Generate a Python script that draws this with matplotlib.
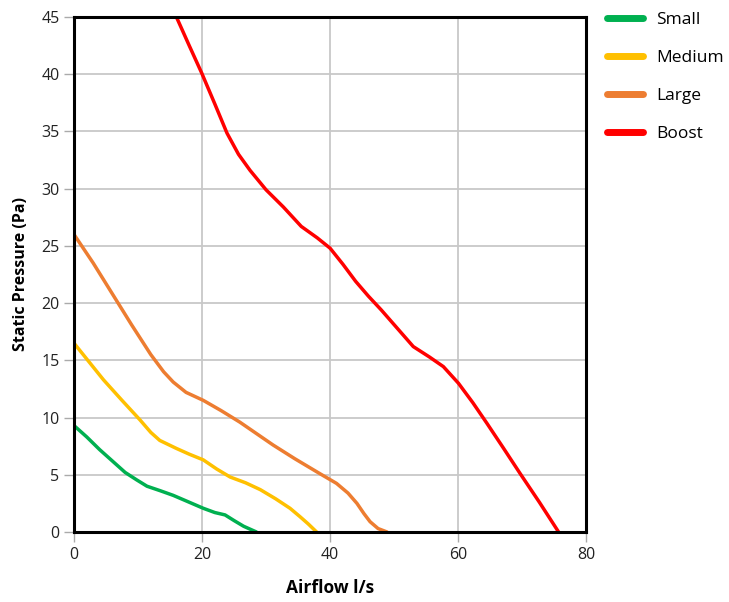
import matplotlib
matplotlib.use("Agg")
import matplotlib.pyplot as plt

plt.rcParams["font.family"] = ["Open Sans", "DejaVu Sans"]

small_x = [0, 2, 4, 6, 8, 9.8, 11.4, 13.5, 15.5, 18, 20.2, 22, 23.6, 25, 26.5, 28.5]
small_y = [9.3, 8.3, 7.2, 6.2, 5.2, 4.55, 4.0, 3.6, 3.2, 2.6, 2.07, 1.7, 1.49, 1.0, 0.5, 0]

medium_x = [0, 2.3, 4.6, 7.5, 10.3, 12, 13.4, 16, 18, 20.2, 22.3, 24.4, 26.8, 29.1, 31.5, 33.75, 35.3, 36.6, 37.9]
medium_y = [16.5, 14.9, 13.3, 11.5, 9.8, 8.7, 8.0, 7.3, 6.8, 6.3, 5.5, 4.8, 4.3, 3.7, 2.9, 2.07, 1.34, 0.7, 0]

large_x = [0, 3, 6, 9, 12, 14, 15.5, 17.5, 20.2, 23, 25.9, 28.5, 31.1, 34.5, 38.4, 41, 42.8, 44.2, 45.3, 46.25, 47.5, 48.9]
large_y = [26, 23.5, 20.8, 18.1, 15.5, 14.0, 13.1, 12.2, 11.5, 10.6, 9.6, 8.6, 7.6, 6.4, 5.1, 4.25, 3.4, 2.5, 1.6, 0.9, 0.3, 0]

boost_x = [16.0, 18, 19.95, 22, 23.9, 25.7, 27.5, 30, 32.7, 35.5, 38, 40, 42, 44, 46, 48, 50.5, 53, 55.5, 57.7, 60.05, 62.3, 64.5, 67, 69.7, 72.7, 75.7]
boost_y = [45.0, 42.5, 40.1, 37.4, 34.85, 33.0, 31.6, 29.9, 28.4, 26.7, 25.7, 24.8, 23.4, 21.9, 20.6, 19.4, 17.8, 16.2, 15.3, 14.45, 13.0, 11.3, 9.5, 7.4, 5.1, 2.6, 0]

series = [
    ("Small", small_x, small_y, "#00b050"),
    ("Medium", medium_x, medium_y, "#ffc000"),
    ("Large", large_x, large_y, "#ed7d31"),
    ("Boost", boost_x, boost_y, "#ff0000"),
]

fig = plt.figure(figsize=(7.29, 6.02), dpi=100)
ax = fig.add_axes([0.1015, 0.1163, 0.7025, 0.8555])

for name, xs, ys, col in series:
    ax.plot(xs, ys, color=col, lw=2.5, label=name, solid_capstyle="round", solid_joinstyle="round")

ax.set_xlim(0, 80)
ax.set_ylim(0, 45)
ax.set_xticks(range(0, 81, 20))
ax.set_yticks(range(0, 46, 5))
ax.grid(True, color="#c8c8c8", lw=1.3)
ax.set_axisbelow(True)
for s in ax.spines.values():
    s.set_color("black")
    s.set_linewidth(2.2)
ax.tick_params(axis="both", colors="#aaaaaa", labelcolor="#222222", labelsize=11.5, length=7, width=1)

ax.set_xlabel("Airflow l/s", fontsize=12.5, fontweight="bold", va="center")
ax.xaxis.set_label_coords(0.5, -0.109)
ax.set_ylabel("Static Pressure (Pa)", fontsize=11.5, fontweight="bold", labelpad=9)

leg = ax.legend(loc="upper left", bbox_to_anchor=(1.01, 1.04), frameon=False,
                fontsize=12.5, handlelength=2.1, handletextpad=0.75, labelspacing=1.25)
for line in leg.get_lines():
    line.set_linewidth(5)
    line.set_solid_capstyle("round")

fig.savefig("out.png", dpi=100)
